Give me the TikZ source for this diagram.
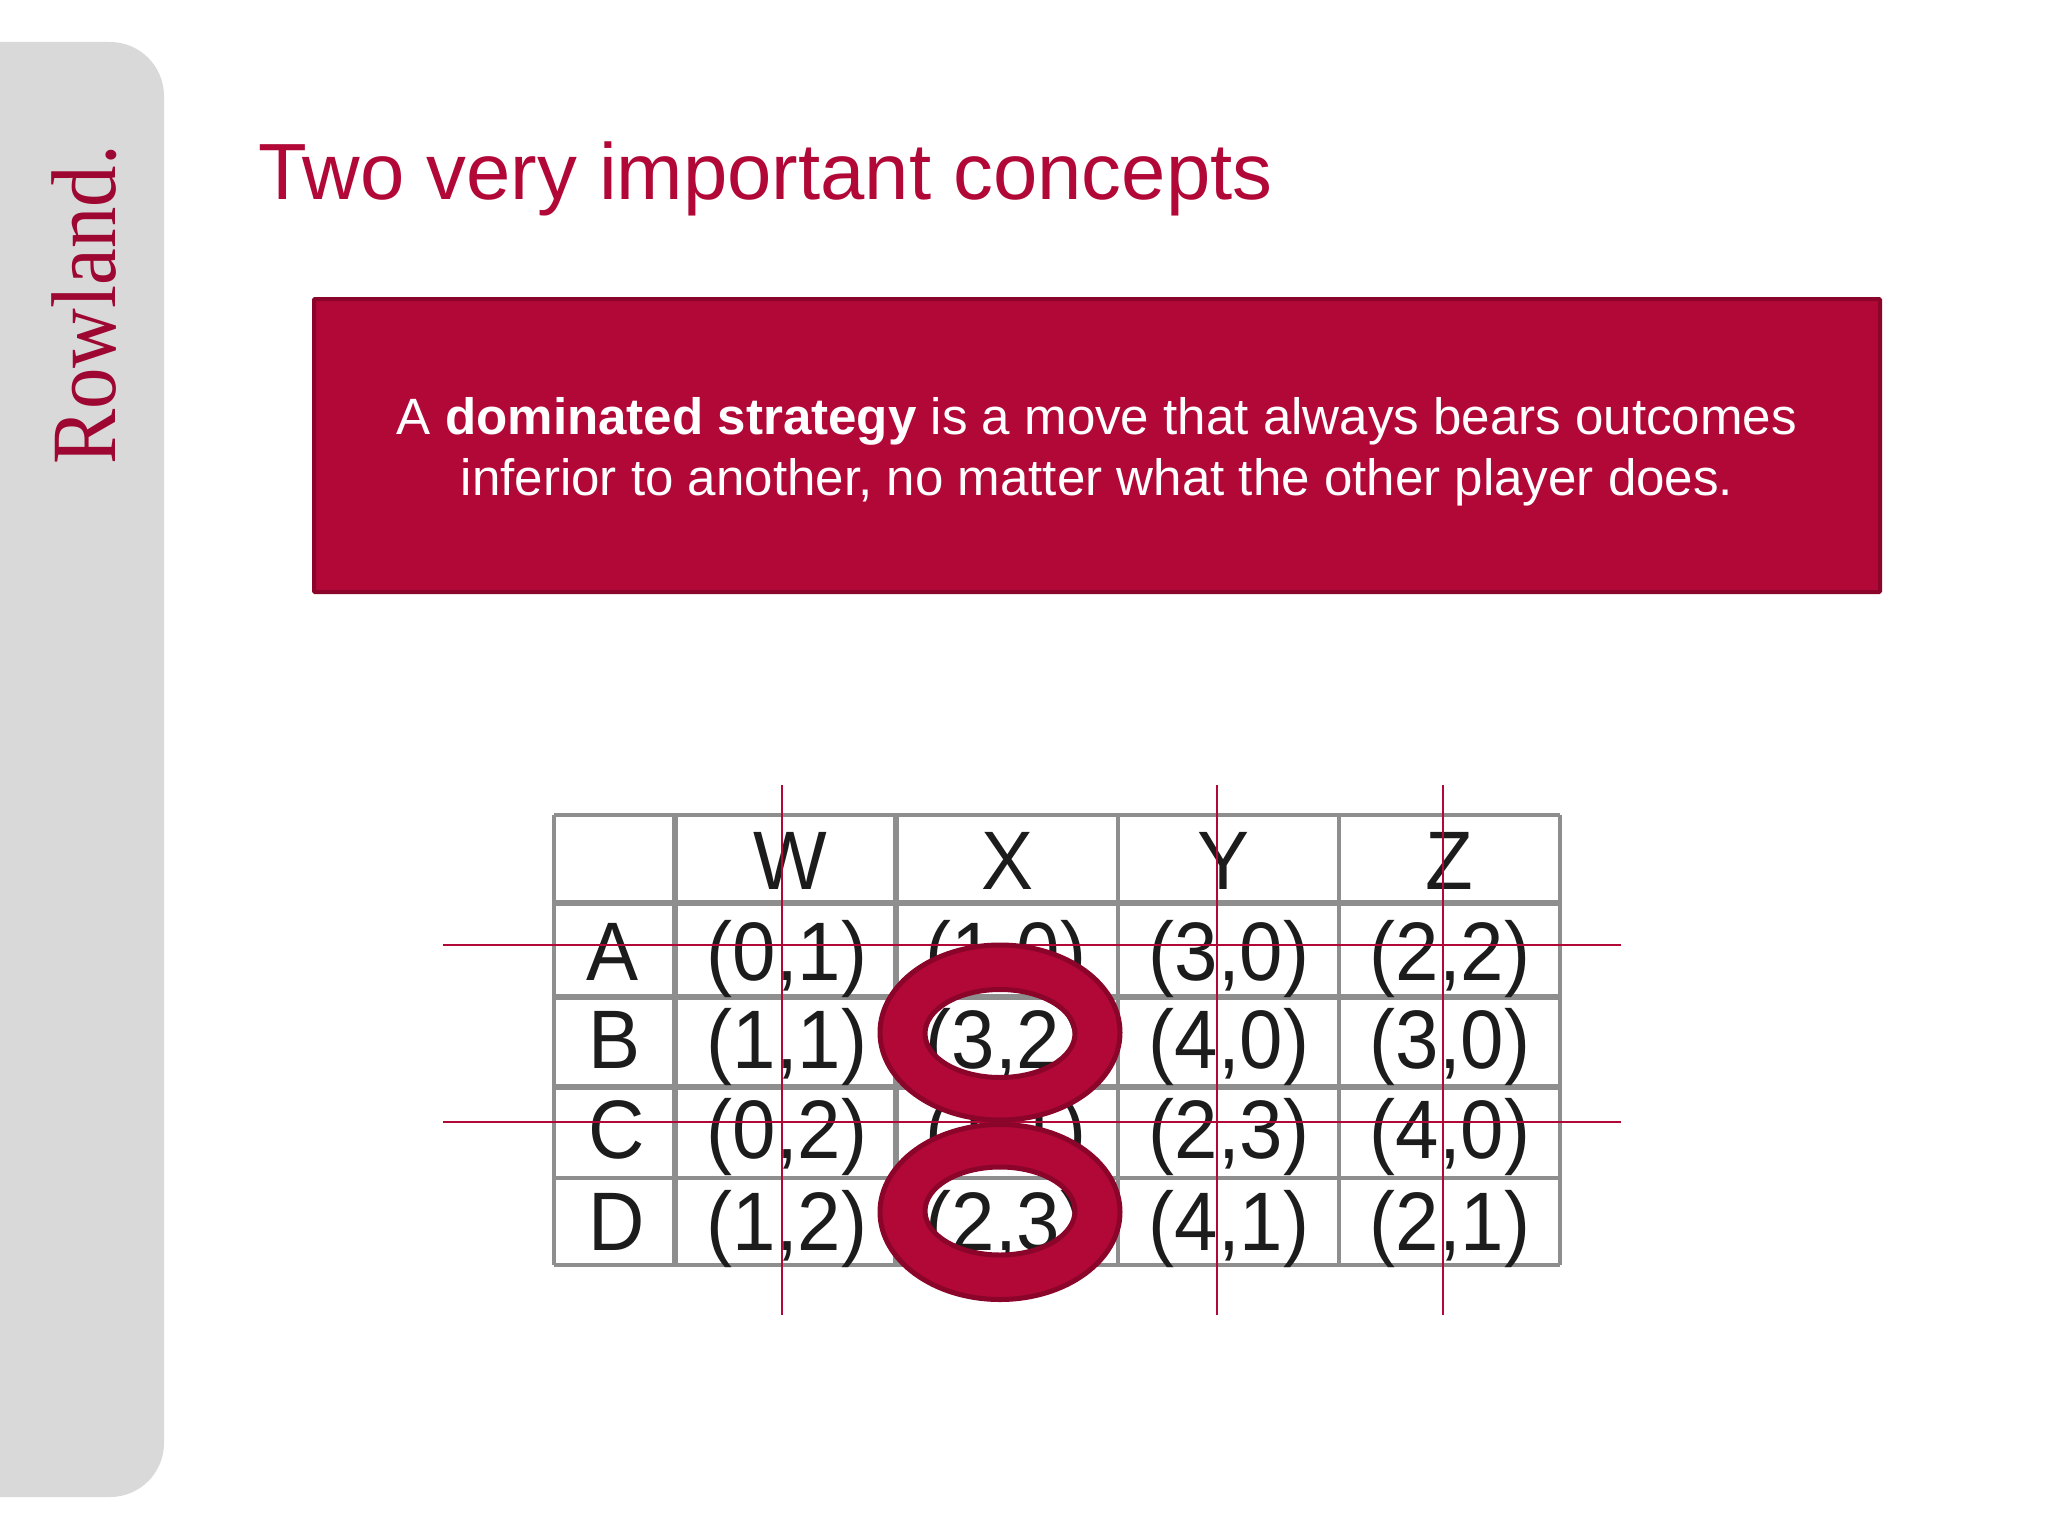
\documentclass[tikz,border=0pt]{standalone}
\usepackage{fontspec}
\setmainfont{Liberation Sans}
\newfontfamily\logofont{Liberation Serif}
\definecolor{crim}{HTML}{B20838}
\definecolor{crimdark}{HTML}{8A0529}
\definecolor{panel}{HTML}{D9D9D9}
\definecolor{gridc}{HTML}{8E8E8E}
\definecolor{ink}{HTML}{1C1C1C}
\newcommand{\cellt}[1]{\scalebox{0.94}[1]{#1}}
\tikzset{
  cell/.style={font=\fontsize{83}{83}\selectfont, text=ink, anchor=base, inner sep=0pt},
  gridthin/.style={draw=gridc, line width=3.5pt},
  gridthick/.style={draw=gridc, line width=6pt},
  redline/.style={draw=crim, line width=2.8pt},
  ring/.style={fill=crim, draw=crimdark, line width=5pt, even odd rule},
}
\begin{document}
\begin{tikzpicture}[x=1pt,y=-1pt]
\useasboundingbox (0,0) rectangle (2048,1536);
\fill[white] (0,0) rectangle (2048,1536);
% side panel
\begin{scope}
\clip (0,0) rectangle (2048,1536);
\fill[panel, rounded corners=54pt] (-80,42) rectangle (164,1497);
\end{scope}
\node (logo) [rotate=90, anchor=base west, inner sep=0pt, text=crim!88!black, font=\logofont\fontsize{92}{92}\selectfont] at (115,465) {\scalebox{0.9}[1]{Rowland.}};
% title
\node (title) [anchor=base west, inner sep=0pt, text=crim, font=\fontsize{79.7}{80}\selectfont] at (258,199) {Two very important concepts};
% box
\draw[fill=crim, draw=crimdark, line width=4pt, rounded corners=1pt] (314,299) rectangle (1880,592);
\node (defn) [anchor=center, inner sep=0pt, text=white, align=center, font=\fontsize{51.1}{61}\selectfont] at (1097,452) {A \textbf{dominated strategy} is a move that always bears outcomes\\inferior to another, no matter what the other player does.};
% table grid
\foreach \y in {903,997,1087} \draw[gridthick] (554,\y) -- (1560,\y);
\foreach \y in {815,1178,1265} \draw[gridthin] (554,\y) -- (1560,\y);
\foreach \x in {554,1118,1339,1560} \draw[gridthin] (\x,815) -- (\x,1265);
\foreach \x in {675,896} \draw[gridthick] (\x,815) -- (\x,1265);
% header
\node (hW) [cell] at (790,889) {\cellt{W}};
\node (hX) [cell] at (1008,889) {\cellt{X}};
\node (hY) [cell] at (1224,889) {\cellt{Y}};
\node (hZ) [cell] at (1449,889) {\cellt{Z}};
% rows
\node (rA) [cell] at (613,980) {\cellt{A}};
\node (rB) [cell] at (615,1068) {\cellt{B}};
\node (rC) [cell] at (617,1158) {\cellt{C}};
\node (rD) [cell] at (617,1250) {\cellt{D}};
\node (aW) [cell] at (787,980) {\cellt{(0,1)}};
\node (aX) [cell] at (1006,980) {\cellt{(1,0)}};
\node (aY) [cell] at (1229,980) {\cellt{(3,0)}};
\node (aZ) [cell] at (1450,980) {\cellt{(2,2)}};
\node (bW) [cell] at (787,1068) {\cellt{(1,1)}};
\node (bX) [cell] at (1006,1068) {\cellt{(3,2)}};
\node (bY) [cell] at (1229,1068) {\cellt{(4,0)}};
\node (bZ) [cell] at (1450,1068) {\cellt{(3,0)}};
\node (cW) [cell] at (787,1158) {\cellt{(0,2)}};
\node (cX) [cell] at (1006,1158) {\cellt{(1,1)}};
\node (cY) [cell] at (1229,1158) {\cellt{(2,3)}};
\node (cZ) [cell] at (1450,1158) {\cellt{(4,0)}};
\node (dW) [cell] at (787,1250) {\cellt{(1,2)}};
\node (dX) [cell] at (1006,1250) {\cellt{(2,3)}};
\node (dY) [cell] at (1229,1250) {\cellt{(4,1)}};
\node (dZ) [cell] at (1450,1250) {\cellt{(2,1)}};
% red lines
\foreach \x in {782,1217,1443} \draw[redline] (\x,785) -- (\x,1315);
\foreach \y in {945,1122} \draw[redline] (443,\y) -- (1621,\y);
% rings
\path[ring] (1000,1032.5) ellipse[x radius=120,y radius=87.5] (1000,1033.5) ellipse[x radius=75,y radius=44];
\path[ring] (1000,1212) ellipse[x radius=120,y radius=87.5] (1000,1211) ellipse[x radius=75,y radius=44];
\end{tikzpicture}
\end{document}
